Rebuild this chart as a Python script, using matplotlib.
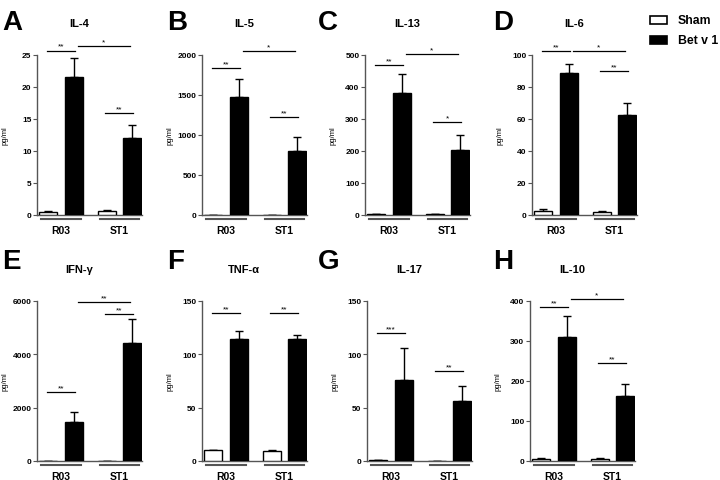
import matplotlib
matplotlib.use("Agg")
import matplotlib.pyplot as plt
from matplotlib.patches import Rectangle
import numpy as np

# cytokine panels, two strains (R03, ST1), Sham vs Bet v 1
GROUPS = ["R03", "ST1"]
LETTERS = ["A", "B", "C", "D", "E", "F", "G", "H"]
TITLES = ["IL-4", "IL-5", "IL-13", "IL-6", "IFN-γ", "TNF-α", "IL-17", "IL-10"]
YMAX = [25, 2000, 500, 100, 6000, 150, 150, 400]
YSTEP = [5, 500, 100, 20, 2000, 50, 50, 100]

SHAM = [[0.4, 0.65], [0, 0], [2, 2], [2.3, 1.8], [8, 8], [10.2, 9.8], [0.6, 0], [5, 6]]
SHAM_ERR = [[0.15, 0.2], [0, 0], [0.5, 0.5], [1.5, 0.6], [3, 3], [0.5, 0.7], [0.2, 0], [2, 1.5]]
BET = [[21.5, 12.0], [1480, 805], [380, 203], [88.6, 62.3],
       [1450, 4430], [114.7, 114.7], [76, 56.5], [310, 163]]
BET_ERR = [[3.1, 2.0], [220, 170], [62, 47], [6, 8],
           [370, 910], [7.5, 3.2], [29.5, 13.5], [53, 30]]

# significance brackets: (which comparison, height in pg/ml, stars)
SIG = [
    [("R03", 25.7, "**"), ("across", 26.45, "*"), ("ST1", 15.9, "**")],
    [("R03", 1837, "**"), ("across", 2046, "*"), ("ST1", 1229, "**")],
    [("R03", 468, "**"), ("across", 503, "*"), ("ST1", 290, "*")],
    [("R03", 102.5, "**"), ("across", 102.3, "*"), ("ST1", 90.2, "**")],
    [("R03", 2570, "**"), ("across", 5960, "**"), ("ST1", 5525, "**")],
    [("R03", 139, "**"), ("ST1", 139, "**")],
    [("R03", 120, "***"), ("ST1", 84.5, "**")],
    [("R03", 386, "**"), ("across", 405, "*"), ("ST1", 246, "**")],
]

AX_GRAY = "#555555"
W, H = 720, 481
LEFTS = [37, 202, 365, 532, 37, 202, 367, 530]   # px
TOPS = [56, 56, 56, 56, 302, 302, 302, 302]
AX_W, AX_H = 105, 160
LETTER_X = [2, 167, 318, 493]
LETTER_Y = [23, 262]

plt.rcParams.update({
    "font.family": ["Liberation Sans", "DejaVu Sans"],
    "font.weight": "bold",
})

fig = plt.figure(figsize=(7.2, 4.81), dpi=100)
fig.patch.set_facecolor("white")

xg = np.arange(len(GROUPS), dtype=float)
off, bw = 0.22, 0.31
span = {"R03": (xg[0] - 0.24, xg[0] + 0.24),
        "ST1": (xg[1] - 0.24, xg[1] + 0.24),
        "across": (xg[0] + 0.29, xg[1] + 0.18)}

for i in range(8):
    ax = fig.add_axes([LEFTS[i] / W, 1 - (TOPS[i] + AX_H) / H, AX_W / W, AX_H / H])
    ax.bar(xg - off, SHAM[i], bw, color="white", edgecolor="black", lw=1.0, zorder=3)
    ax.bar(xg + off, BET[i], bw, color="black", edgecolor="black", lw=1.0, zorder=3)
    ax.errorbar(xg - off, SHAM[i], yerr=[[0, 0], SHAM_ERR[i]], fmt="none",
                ecolor="black", elinewidth=1, capsize=3, capthick=1, zorder=2)
    ax.errorbar(xg + off, BET[i], yerr=[[0, 0], BET_ERR[i]], fmt="none",
                ecolor="black", elinewidth=1, capsize=3, capthick=1, zorder=2)

    ax.set_xlim(-0.416, 1.39)
    ax.set_ylim(0, YMAX[i])
    ax.set_yticks(np.arange(0, YMAX[i] + 1, YSTEP[i]))
    ax.set_xticks([])
    ax.tick_params(axis="y", length=3, width=0.8, color=AX_GRAY, labelsize=6, pad=1)
    ax.spines[["top", "right"]].set_visible(False)
    for s in ("left", "bottom"):
        ax.spines[s].set_color(AX_GRAY)
        ax.spines[s].set_linewidth(1.0)
    ax.set_ylabel("pg/ml", fontsize=5.5)
    ax.yaxis.set_label_coords(-28 / AX_W, 0.5)

    trans = ax.get_xaxis_transform()
    for g, name in zip(xg, GROUPS):
        ax.plot([g - 0.34, g + 0.34], [-0.025, -0.025], transform=trans,
                color=AX_GRAY, lw=1.5, clip_on=False)
        ax.text(g, -0.094, name, transform=trans, ha="center", va="center", fontsize=7.5)

    for kind, h, stars in SIG[i]:
        x0, x1 = span[kind]
        ax.plot([x0, x1], [h, h], color="black", lw=0.9, clip_on=False, zorder=4)
        ax.annotate(stars, ((x0 + x1) / 2, h), textcoords="offset points", xytext=(0, 0.5),
                    ha="center", va="bottom", fontsize=6, fontweight="normal",
                    annotation_clip=False)

    ax.text(0.4, 1 + 32 / AX_H, TITLES[i], transform=ax.transAxes, ha="center",
            va="center", fontsize=8)
    fig.text(LETTER_X[i % 4] / W, 1 - LETTER_Y[i // 4] / H, LETTERS[i],
             ha="left", va="center", fontsize=20)

# legend
for (y0, fc, lab) in [(17, "white", "Sham"), (37, "black", "Bet v 1")]:
    fig.add_artist(Rectangle((650 / W, 1 - (y0 + 8) / H), 17 / W, 8 / H,
                             transform=fig.transFigure, facecolor=fc,
                             edgecolor="black", lw=1.2))
    fig.text(678 / W, 1 - (y0 + 4) / H, lab, ha="left", va="center", fontsize=8.8)

fig.savefig("out.png", dpi=100)
